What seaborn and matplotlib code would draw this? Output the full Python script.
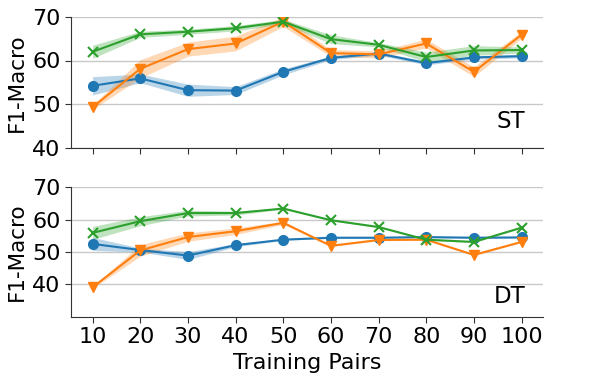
import matplotlib
matplotlib.use("Agg")
import matplotlib.pyplot as plt
import numpy as np
import pandas as pd
import seaborn as sns

pairs = [10, 20, 30, 40, 50, 60, 70, 80, 90, 100]
methods = ["A", "B", "C"]
markers = ["o", "v", "x"]

# ST panel: mean and half-width of the shaded band
st_mean = {
    "A": [54.2, 55.9, 53.2, 53.1, 57.4, 60.6, 61.6, 59.4, 60.7, 61.0],
    "B": [49.3, 58.1, 62.6, 63.9, 68.9, 61.7, 61.4, 63.9, 57.4, 65.9],
    "C": [62.0, 66.0, 66.6, 67.4, 68.9, 64.9, 63.6, 60.8, 62.3, 62.4],
}
st_band = {
    "A": [2.1, 1.0, 1.4, 0.9, 0.7, 0.4, 0.4, 0.4, 0.4, 0.4],
    "B": [0.5, 2.1, 1.6, 1.7, 1.1, 0.8, 0.8, 1.0, 1.1, 0.8],
    "C": [1.5, 0.7, 0.6, 0.6, 0.5, 1.0, 0.5, 1.1, 1.1, 0.7],
}
# DT panel
dt_mean = {
    "A": [52.5, 50.6, 48.9, 52.1, 53.8, 54.4, 54.4, 54.6, 54.4, 54.5],
    "B": [39.1, 50.5, 54.6, 56.4, 59.0, 51.9, 53.7, 53.8, 49.1, 53.1],
    "C": [55.9, 59.5, 62.0, 62.0, 63.4, 59.8, 57.7, 53.8, 53.1, 57.5],
}
dt_band = {
    "A": [2.0, 0.6, 1.2, 0.5, 0.2, 0.2, 0.2, 0.2, 0.2, 0.2],
    "B": [0.3, 1.8, 1.3, 1.0, 0.5, 0.2, 0.2, 0.2, 0.2, 0.2],
    "C": [2.0, 1.4, 0.9, 0.6, 0.2, 0.2, 0.2, 0.2, 0.2, 0.2],
}


def long_frame(mean, band):
    rows = []
    for m in methods:
        for x, mu, h in zip(pairs, mean[m], band[m]):
            for v in (mu - h, mu, mu + h):
                rows.append({"pairs": x, "score": v, "method": m})
    return pd.DataFrame(rows)


sns.set_style("white")
plt.rcParams["font.family"] = ["DejaVu Sans"]
plt.rcParams["text.color"] = "black"
plt.rcParams["axes.labelcolor"] = "black"
plt.rcParams["xtick.color"] = "black"
plt.rcParams["ytick.color"] = "black"

fig = plt.figure(figsize=(5.98, 3.75), dpi=100)
ax1 = fig.add_axes([0.119, 0.606, 0.789, 0.349])
ax2 = fig.add_axes([0.119, 0.155, 0.789, 0.346])

palette = sns.color_palette("tab10", 3)
for ax, mean, band, tag, tag_y, ylim in [
    (ax1, st_mean, st_band, "ST", 0.11, (40, 70)),
    (ax2, dt_mean, dt_band, "DT", 0.07, (30, 70)),
]:
    df = long_frame(mean, band)
    for m, mk, c in zip(methods, markers, palette):
        sub = df[df["method"] == m]
        sns.lineplot(data=sub, x="pairs", y="score", ax=ax, color=c,
                     marker=mk, markersize=7,
                     markeredgewidth=1.5 if mk == "x" else 1.0,
                     markeredgecolor=c,
                     errorbar=("pi", 100), err_kws={"alpha": 0.3, "linewidth": 0},
                     linewidth=1.5)
    ax.set_ylim(*ylim)
    ax.set_yticks([40, 50, 60, 70])
    ax.set_xticks(pairs)
    ax.yaxis.grid(True, color="#c8c8c8", linewidth=1)
    ax.set_axisbelow(True)
    ax.set_ylabel("F1-Macro", fontsize=15.5)
    ax.set_xlabel("")
    ax.text(0.962, tag_y, tag, transform=ax.transAxes, ha="right", va="bottom",
            fontsize=16.5)
    sns.despine(ax=ax)
    for s in ("left", "bottom"):
        ax.spines[s].set_color("#333333")
    ax.tick_params(axis="both", direction="out", length=4, color="#333333",
                   labelsize=16, bottom=True, left=True)

ax1.set_xticklabels([])
ax2.set_xlabel("Training Pairs", fontsize=16)

fig.savefig("out.png", dpi=100)
